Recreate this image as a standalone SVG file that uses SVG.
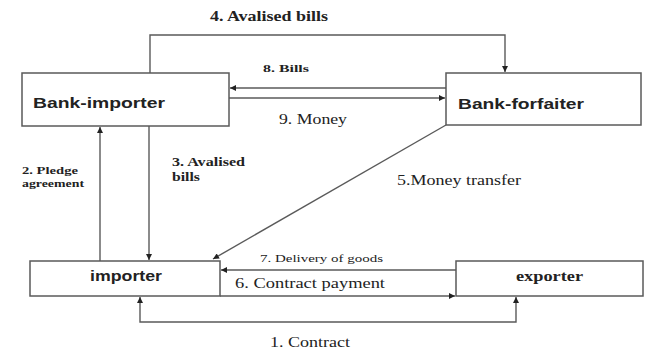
<svg xmlns="http://www.w3.org/2000/svg" width="648" height="351" viewBox="0 0 648 351">
  <style>
    .box { fill: #ffffff; stroke: #5a5a5a; stroke-width: 1.5; }
    .conn { fill: none; stroke: #5a5a5a; stroke-width: 1.4; }
    .node-label { font-family: "Liberation Sans", Arial, sans-serif; font-weight: bold; font-size: 15px; fill: #222; }
    .serif-label { font-family: "Liberation Serif", "Times New Roman", serif; fill: #222; }
    .b { font-weight: bold; }
  </style>
  <defs>
    <marker id="arrow" viewBox="0 0 10 10" refX="10" refY="5" markerWidth="7" markerHeight="6" markerUnits="userSpaceOnUse" orient="auto-start-reverse">
      <path d="M0,0 L10,5 L0,10 Z" fill="#222"/>
    </marker>
  </defs>
  <rect width="648" height="351" fill="#ffffff"/>

  <!-- connectors -->
  <g id="connectors">
    <path class="conn" d="M150,73 V35 H505 V72" marker-end="url(#arrow)"/>
    <path class="conn" d="M446,88 H230" marker-end="url(#arrow)"/>
    <path class="conn" d="M229,98 H445" marker-end="url(#arrow)"/>
    <path class="conn" d="M100,261 V127" marker-end="url(#arrow)"/>
    <path class="conn" d="M149,126 V260" marker-end="url(#arrow)"/>
    <path class="conn" d="M446,125 L213,259" marker-end="url(#arrow)"/>
    <path class="conn" d="M456,270 H221" marker-end="url(#arrow)"/>
    <path class="conn" d="M220,296 H455" marker-end="url(#arrow)"/>
    <path class="conn" d="M140,297 V322 H516 V297" marker-start="url(#arrow)" marker-end="url(#arrow)"/>

    <text class="serif-label b" x="210" y="21" font-size="14" textLength="118" lengthAdjust="spacingAndGlyphs">4. Avalised bills</text>
    <text class="serif-label b" x="263" y="72" font-size="11" textLength="46" lengthAdjust="spacingAndGlyphs">8. Bills</text>
    <text class="serif-label" x="279" y="124" font-size="14" textLength="68" lengthAdjust="spacingAndGlyphs">9. Money</text>
    <text class="serif-label b" x="22" y="174" font-size="10.5" textLength="56" lengthAdjust="spacingAndGlyphs">2. Pledge</text>
    <text class="serif-label b" x="22" y="187" font-size="10.5" textLength="62" lengthAdjust="spacingAndGlyphs">agreement</text>
    <text class="serif-label b" x="172" y="166" font-size="12" textLength="73" lengthAdjust="spacingAndGlyphs">3. Avalised</text>
    <text class="serif-label b" x="172" y="181" font-size="12" textLength="28" lengthAdjust="spacingAndGlyphs">bills</text>
    <text class="serif-label" x="397" y="185" font-size="14" textLength="124" lengthAdjust="spacingAndGlyphs">5.Money transfer</text>
    <text class="serif-label" x="260" y="262" font-size="11" textLength="123" lengthAdjust="spacingAndGlyphs">7. Delivery of goods</text>
    <text class="serif-label" x="235" y="288" font-size="14" textLength="150" lengthAdjust="spacingAndGlyphs">6. Contract payment</text>
    <text class="serif-label" x="270" y="347" font-size="14" textLength="80" lengthAdjust="spacingAndGlyphs">1. Contract</text>
  </g>

  <!-- nodes -->
  <g id="bank-importer">
    <rect class="box" x="22" y="73" width="207" height="53"/>
    <text class="node-label" x="33" y="108" textLength="132" lengthAdjust="spacingAndGlyphs">Bank-importer</text>
  </g>
  <g id="bank-forfaiter">
    <rect class="box" x="446" y="73" width="195" height="52"/>
    <text class="node-label" x="458" y="109" textLength="126" lengthAdjust="spacingAndGlyphs">Bank-forfaiter</text>
  </g>
  <g id="importer">
    <rect class="box" x="30" y="261" width="190" height="35"/>
    <text class="node-label" x="90" y="281" textLength="72" lengthAdjust="spacingAndGlyphs">importer</text>
  </g>
  <g id="exporter">
    <rect class="box" x="456" y="261" width="187" height="35"/>
    <text class="serif-label b" x="516" y="281" font-size="15" textLength="67" lengthAdjust="spacingAndGlyphs">exporter</text>
  </g>
</svg>
